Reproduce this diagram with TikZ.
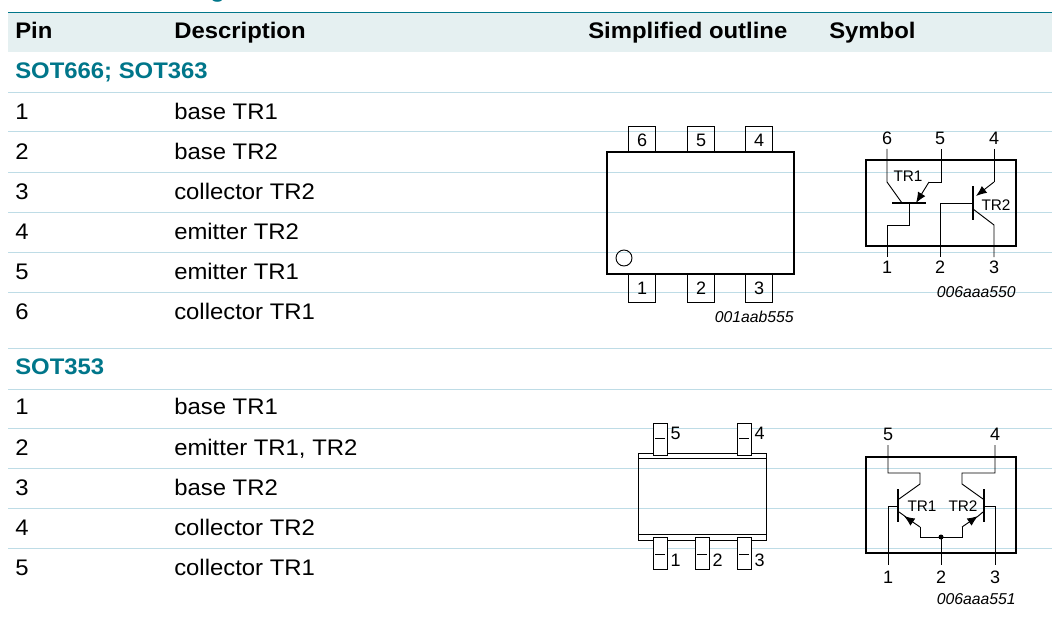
\documentclass[tikz,border=0pt]{standalone}
\usepackage{fontspec}
\setmainfont{Liberation Sans}
\newfontfamily\tablefont[FakeStretch=1.06]{Liberation Sans}
\usetikzlibrary{arrows.meta}
\definecolor{headteal}{RGB}{0,118,138}
\definecolor{headfill}{RGB}{229,240,241}
\definecolor{rowline}{RGB}{190,220,230}
\tikzset{
  px/.style = {x = 0.75pt, y = -0.75pt},
  rowtext/.style = {anchor = base west, inner sep = 0pt, font = \tablefont\fontsize{16.9}{19}\selectfont},
  headtext/.style = {rowtext, font = \tablefont\fontsize{16.9}{19}\selectfont\bfseries},
  sottext/.style = {headtext, text = headteal},
  pinnum/.style = {inner sep = 0pt, font = \fontsize{13.5}{16}\selectfont},
  codetext/.style = {inner sep = 0pt, font = \fontsize{11.8}{14}\selectfont\itshape},
  trtext/.style = {inner sep = 0pt, font = \fontsize{11.5}{14}\selectfont},
  wire/.style = {line width = 0.7pt},
  thickwire/.style = {line width = 2.2pt},
  tip/.style = {-{Latex[length = 8pt, width = 6.5pt]}, line width = 0.7pt}
}
\begin{document}
\begin{tikzpicture}[px]
\useasboundingbox (0,0) rectangle (1052,624);

% cut off title
\node[sottext] (title) at (210,-2) {g};

% header band
\fill[headfill] (8,13) rectangle (1052,52);
\draw[headteal, line width = 0.75pt] (8,13)--(1052,13);
\foreach \y in {93,132,172,212,252,292,348,389,428,468,508,548} {
  \draw[rowline, line width = 0.75pt] (8,\y)--(1052,\y);
}

\node[headtext] (pin) at (15,39) {Pin};
\node[headtext] (desc) at (174,39) {Description};
\node[headtext] (outl) at (588,39) {Simplified outline};
\node[headtext] (symb) at (829,39) {Symbol};

\node[sottext] (sota) at (15,78.5) {SOT666; SOT363};
\node[sottext] (sotb) at (15,374) {SOT353};

% pin table
\foreach \y/\n/\d in {120/1/base TR1, 159.5/2/base TR2, 199.5/3/collector TR2, 239.5/4/emitter TR2, 279.5/5/emitter TR1, 319.5/6/collector TR1,
  414.5/1/base TR1, 455.5/2/{emitter TR1, TR2}, 495.5/3/base TR2, 535.5/4/collector TR2, 575.5/5/collector TR1} {
  \node[rowtext] at (15,\y) {\n};
  \node[rowtext] at (174,\y) {\d};
}

% SOT666 outline
\foreach \x/\n in {642/6, 701/5, 759/4} {
  \draw[wire] (\x-13.5,126) rectangle (\x+13.5,152);
  \node[pinnum] at (\x,140) {\n};
}
\foreach \x/\n in {642/1, 701/2, 759/3} {
  \draw[wire] (\x-13.5,274) rectangle (\x+13.5,302);
  \node[pinnum] at (\x,288) {\n};
}
\draw[thickwire] (607,152) rectangle (794,274);
\draw[wire] (624,258) circle (8);
\node[codetext, anchor = east] (codea) at (794,317) {001aab555};

% SOT666 symbol
\draw[thickwire] (866,160) rectangle (1016,246);
\draw[wire] (887,149)--(887,182)--(902,203);
\draw[thickwire] (892,203)--(926,203);
\draw[wire] (909,203)--(909,225)--(887,225)--(887,257);
\draw[wire] (941,149)--(941,182)--(929,182);
\draw[tip] (929,182)--(916,203);
\draw[thickwire] (973,186)--(973,220);
\draw[wire] (973,203)--(940,203)--(940,257);
\draw[wire] (994,149)--(994,182);
\draw[tip] (994,182)--(976,196);
\draw[wire] (973,209)--(994,225)--(994,257);
\foreach \x/\n in {887/6, 940/5, 994/4} {\node[pinnum] at (\x,138) {\n};}
\foreach \x/\n in {887/1, 940/2, 994/3} {\node[pinnum] at (\x,267) {\n};}
\node[trtext] (tra) at (908,176) {TR1};
\node[trtext] (trb) at (996,205) {TR2};
\node[codetext, anchor = east] (codeb) at (1016,292) {006aaa550};

% SOT353 outline
\draw[wire] (638,453) rectangle (766,540);
\draw[wire] (638,458)--(766,458);
\draw[wire] (638,534)--(766,534);
\foreach \x/\n in {660/5, 744/4} {
  \draw[fill = white, wire] (\x-7,423) rectangle (\x+7,455);
  \draw[wire] (\x-5,438)--(\x+5,438);
  \node[pinnum] at (\x+15.5,433) {\n};
}
\foreach \x/\n in {660/1, 702/2, 744/3} {
  \draw[fill = white, wire] (\x-7,537) rectangle (\x+7,569);
  \draw[wire] (\x-5,554)--(\x+5,554);
  \node[pinnum] at (\x+15.5,560) {\n};
}

% SOT353 symbol
\draw[thickwire] (866,457) rectangle (1016,553);
\draw[wire] (888,445)--(888,473)--(920,473)--(920,484)--(899,499);
\draw[thickwire] (898,489)--(898,522);
\draw[wire] (898,506)--(888,506)--(888,565);
\draw[tip] (920,527)--(904,516);
\draw[wire] (906,517)--(899,512);
\draw[wire] (920,527)--(920,537)--(962,537)--(962,527);
\draw[tip] (962,527)--(978,516);
\draw[wire] (977,517)--(983,512);
\draw[thickwire] (984,489)--(984,522);
\draw[wire] (983,499)--(962,484)--(962,473)--(995,473)--(995,445);
\draw[wire] (984,506)--(995,506)--(995,565);
\coordinate (tap) at (941,537);
\fill (tap) circle (2.5);
\draw[wire] (tap)--(941,565);
\foreach \x/\n in {888/5, 995/4} {\node[pinnum] at (\x,434) {\n};}
\foreach \x/\n in {888/1, 941/2, 995/3} {\node[pinnum] at (\x,577) {\n};}
\node[trtext] (trc) at (922,506) {TR1};
\node[trtext] (trd) at (963,506) {TR2};
\node[codetext, anchor = east] (coded) at (1016,599) {006aaa551};
\end{tikzpicture}
\end{document}
